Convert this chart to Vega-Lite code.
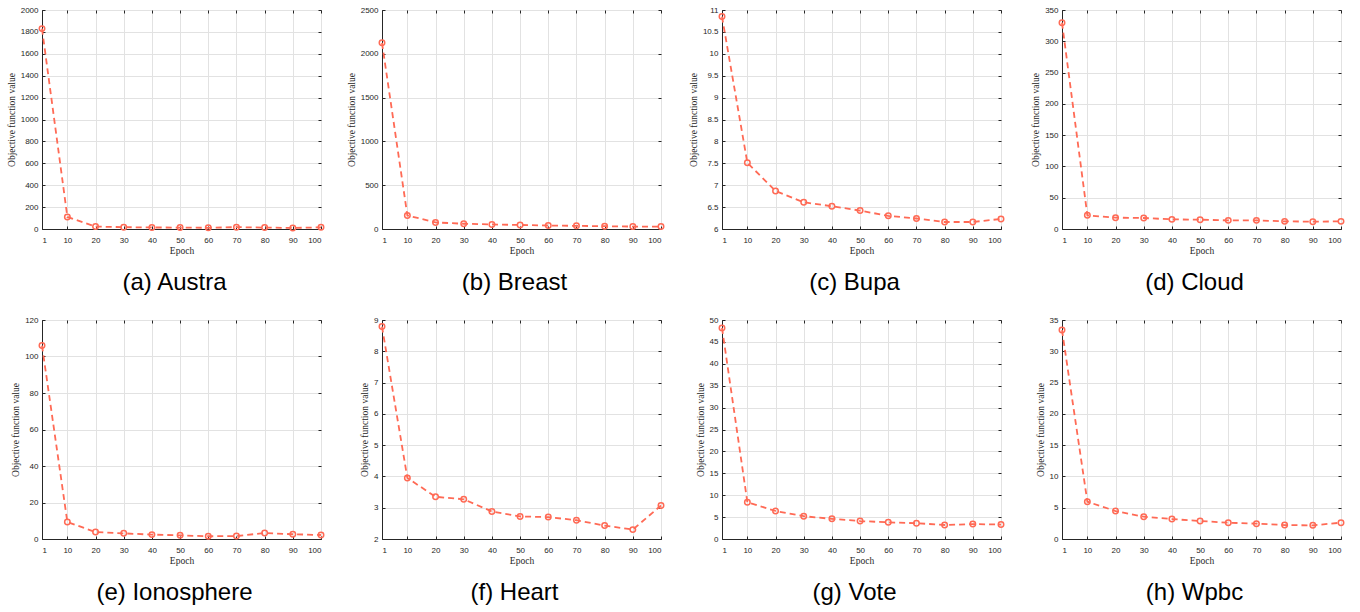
{
  "$schema": "https://vega.github.io/schema/vega-lite/v6.json",
  "background": "white",
  "padding": {"left": 5, "top": 5, "right": 5, "bottom": 5},
  "bounds": "flush",
  "spacing": {"row": 91, "column": 61},
  "columns": 4,
  "config": {
    "view": {"stroke": "#262626", "strokeWidth": 1},
    "axis": {
      "labelFont": "Liberation Sans",
      "labelFontSize": 8,
      "labelColor": "#262626",
      "labelExpr": "'' + datum.value",
      "titleFont": "Liberation Serif",
      "titleFontSize": 9.5,
      "titleFontWeight": "normal",
      "titleColor": "#262626",
      "domainColor": "#262626",
      "tickColor": "#262626",
      "tickSize": -3,
      "gridColor": "#e2e2e2",
      "gridWidth": 1
    },
    "axisX": {"labelPadding": 10, "titlePadding": 1},
    "axisY": {"labelPadding": 7, "titlePadding": 4},
    "axisTop": {"labels": false, "title": null, "grid": false, "domain": false},
    "axisRight": {"labels": false, "title": null, "grid": false, "domain": false},
    "title": {
      "font": "Liberation Sans",
      "fontSize": 24,
      "fontWeight": "normal",
      "color": "#000000",
      "orient": "bottom",
      "frame": "group",
      "anchor": "middle",
      "dx": -7,
      "offset": 16
    }
  },
  "datasets": {
    "all": [
      {"ds": "Austra", "epoch": 1, "value": 1830}, {"ds": "Austra", "epoch": 10, "value": 110}, {"ds": "Austra", "epoch": 20, "value": 22}, {"ds": "Austra", "epoch": 30, "value": 17}, {"ds": "Austra", "epoch": 40, "value": 14}, {"ds": "Austra", "epoch": 50, "value": 13}, {"ds": "Austra", "epoch": 60, "value": 11}, {"ds": "Austra", "epoch": 70, "value": 17}, {"ds": "Austra", "epoch": 80, "value": 13}, {"ds": "Austra", "epoch": 90, "value": 10}, {"ds": "Austra", "epoch": 100, "value": 15},
      {"ds": "Breast", "epoch": 1, "value": 2125}, {"ds": "Breast", "epoch": 10, "value": 155}, {"ds": "Breast", "epoch": 20, "value": 75}, {"ds": "Breast", "epoch": 30, "value": 60}, {"ds": "Breast", "epoch": 40, "value": 52}, {"ds": "Breast", "epoch": 50, "value": 46}, {"ds": "Breast", "epoch": 60, "value": 40}, {"ds": "Breast", "epoch": 70, "value": 36}, {"ds": "Breast", "epoch": 80, "value": 32}, {"ds": "Breast", "epoch": 90, "value": 28}, {"ds": "Breast", "epoch": 100, "value": 28},
      {"ds": "Bupa", "epoch": 1, "value": 10.85}, {"ds": "Bupa", "epoch": 10, "value": 7.51}, {"ds": "Bupa", "epoch": 20, "value": 6.87}, {"ds": "Bupa", "epoch": 30, "value": 6.61}, {"ds": "Bupa", "epoch": 40, "value": 6.52}, {"ds": "Bupa", "epoch": 50, "value": 6.42}, {"ds": "Bupa", "epoch": 60, "value": 6.3}, {"ds": "Bupa", "epoch": 70, "value": 6.24}, {"ds": "Bupa", "epoch": 80, "value": 6.16}, {"ds": "Bupa", "epoch": 90, "value": 6.16}, {"ds": "Bupa", "epoch": 100, "value": 6.23},
      {"ds": "Cloud", "epoch": 1, "value": 329.8}, {"ds": "Cloud", "epoch": 10, "value": 21.8}, {"ds": "Cloud", "epoch": 20, "value": 18.1}, {"ds": "Cloud", "epoch": 30, "value": 17.6}, {"ds": "Cloud", "epoch": 40, "value": 15.4}, {"ds": "Cloud", "epoch": 50, "value": 14.9}, {"ds": "Cloud", "epoch": 60, "value": 13.8}, {"ds": "Cloud", "epoch": 70, "value": 13.8}, {"ds": "Cloud", "epoch": 80, "value": 12.2}, {"ds": "Cloud", "epoch": 90, "value": 11.7}, {"ds": "Cloud", "epoch": 100, "value": 12.2},
      {"ds": "Ionosphere", "epoch": 1, "value": 106}, {"ds": "Ionosphere", "epoch": 10, "value": 9.3}, {"ds": "Ionosphere", "epoch": 20, "value": 3.8}, {"ds": "Ionosphere", "epoch": 30, "value": 3.1}, {"ds": "Ionosphere", "epoch": 40, "value": 2.4}, {"ds": "Ionosphere", "epoch": 50, "value": 2.0}, {"ds": "Ionosphere", "epoch": 60, "value": 1.5}, {"ds": "Ionosphere", "epoch": 70, "value": 1.6}, {"ds": "Ionosphere", "epoch": 80, "value": 3.3}, {"ds": "Ionosphere", "epoch": 90, "value": 2.6}, {"ds": "Ionosphere", "epoch": 100, "value": 2.2},
      {"ds": "Heart", "epoch": 1, "value": 8.79}, {"ds": "Heart", "epoch": 10, "value": 3.95}, {"ds": "Heart", "epoch": 20, "value": 3.35}, {"ds": "Heart", "epoch": 30, "value": 3.27}, {"ds": "Heart", "epoch": 40, "value": 2.88}, {"ds": "Heart", "epoch": 50, "value": 2.72}, {"ds": "Heart", "epoch": 60, "value": 2.7}, {"ds": "Heart", "epoch": 70, "value": 2.6}, {"ds": "Heart", "epoch": 80, "value": 2.43}, {"ds": "Heart", "epoch": 90, "value": 2.3}, {"ds": "Heart", "epoch": 100, "value": 3.07},
      {"ds": "Vote", "epoch": 1, "value": 48.2}, {"ds": "Vote", "epoch": 10, "value": 8.4}, {"ds": "Vote", "epoch": 20, "value": 6.4}, {"ds": "Vote", "epoch": 30, "value": 5.2}, {"ds": "Vote", "epoch": 40, "value": 4.6}, {"ds": "Vote", "epoch": 50, "value": 4.1}, {"ds": "Vote", "epoch": 60, "value": 3.8}, {"ds": "Vote", "epoch": 70, "value": 3.6}, {"ds": "Vote", "epoch": 80, "value": 3.2}, {"ds": "Vote", "epoch": 90, "value": 3.4}, {"ds": "Vote", "epoch": 100, "value": 3.3},
      {"ds": "Wpbc", "epoch": 1, "value": 33.4}, {"ds": "Wpbc", "epoch": 10, "value": 5.96}, {"ds": "Wpbc", "epoch": 20, "value": 4.47}, {"ds": "Wpbc", "epoch": 30, "value": 3.56}, {"ds": "Wpbc", "epoch": 40, "value": 3.19}, {"ds": "Wpbc", "epoch": 50, "value": 2.87}, {"ds": "Wpbc", "epoch": 60, "value": 2.61}, {"ds": "Wpbc", "epoch": 70, "value": 2.45}, {"ds": "Wpbc", "epoch": 80, "value": 2.23}, {"ds": "Wpbc", "epoch": 90, "value": 2.18}, {"ds": "Wpbc", "epoch": 100, "value": 2.61}
    ]
  },
  "concat": [
    {
      "width": 279, "height": 219,
      "title": {"text": "(a) Austra"},
      "data": {"name": "all"},
      "transform": [{"filter": "datum.ds === 'Austra'"}],
      "encoding": {
        "x": {"field": "epoch", "type": "quantitative", "scale": {"domain": [1, 100], "nice": false}, "axis": {"title": "Epoch", "values": [1, 10, 20, 30, 40, 50, 60, 70, 80, 90, 100]}},
        "y": {"field": "value", "type": "quantitative", "scale": {"domain": [0, 2000], "nice": false}, "axis": {"title": "Objective function value", "values": [0, 200, 400, 600, 800, 1000, 1200, 1400, 1600, 1800, 2000]}}
      },
      "layer": [
        {"mark": {"type": "line", "color": "#ff6a55", "strokeWidth": 1.8, "strokeDash": [6, 4]}},
        {"mark": {"type": "point", "shape": "circle", "filled": false, "color": "#ff6a55", "strokeWidth": 1.5, "size": 30, "opacity": 1},
         "encoding": {
           "x": {"field": "epoch", "type": "quantitative", "scale": {"domain": [1, 100], "nice": false}, "axis": {"orient": "top", "values": [1, 10, 20, 30, 40, 50, 60, 70, 80, 90, 100]}},
           "y": {"field": "value", "type": "quantitative", "scale": {"domain": [0, 2000], "nice": false}, "axis": {"orient": "right", "values": [0, 200, 400, 600, 800, 1000, 1200, 1400, 1600, 1800, 2000]}}
         }}
      ],
      "resolve": {"axis": {"x": "independent", "y": "independent"}}
    },
    {
      "width": 279, "height": 219,
      "title": {"text": "(b) Breast"},
      "data": {"name": "all"},
      "transform": [{"filter": "datum.ds === 'Breast'"}],
      "encoding": {
        "x": {"field": "epoch", "type": "quantitative", "scale": {"domain": [1, 100], "nice": false}, "axis": {"title": "Epoch", "values": [1, 10, 20, 30, 40, 50, 60, 70, 80, 90, 100]}},
        "y": {"field": "value", "type": "quantitative", "scale": {"domain": [0, 2500], "nice": false}, "axis": {"title": "Objective function value", "values": [0, 500, 1000, 1500, 2000, 2500]}}
      },
      "layer": [
        {"mark": {"type": "line", "color": "#ff6a55", "strokeWidth": 1.8, "strokeDash": [6, 4]}},
        {"mark": {"type": "point", "shape": "circle", "filled": false, "color": "#ff6a55", "strokeWidth": 1.5, "size": 30, "opacity": 1},
         "encoding": {
           "x": {"field": "epoch", "type": "quantitative", "scale": {"domain": [1, 100], "nice": false}, "axis": {"orient": "top", "values": [1, 10, 20, 30, 40, 50, 60, 70, 80, 90, 100]}},
           "y": {"field": "value", "type": "quantitative", "scale": {"domain": [0, 2500], "nice": false}, "axis": {"orient": "right", "values": [0, 500, 1000, 1500, 2000, 2500]}}
         }}
      ],
      "resolve": {"axis": {"x": "independent", "y": "independent"}}
    },
    {
      "width": 279, "height": 219,
      "title": {"text": "(c) Bupa"},
      "data": {"name": "all"},
      "transform": [{"filter": "datum.ds === 'Bupa'"}],
      "encoding": {
        "x": {"field": "epoch", "type": "quantitative", "scale": {"domain": [1, 100], "nice": false}, "axis": {"title": "Epoch", "values": [1, 10, 20, 30, 40, 50, 60, 70, 80, 90, 100]}},
        "y": {"field": "value", "type": "quantitative", "scale": {"domain": [6, 11], "nice": false, "zero": false}, "axis": {"title": "Objective function value", "values": [6, 6.5, 7, 7.5, 8, 8.5, 9, 9.5, 10, 10.5, 11]}}
      },
      "layer": [
        {"mark": {"type": "line", "color": "#ff6a55", "strokeWidth": 1.8, "strokeDash": [6, 4]}},
        {"mark": {"type": "point", "shape": "circle", "filled": false, "color": "#ff6a55", "strokeWidth": 1.5, "size": 30, "opacity": 1},
         "encoding": {
           "x": {"field": "epoch", "type": "quantitative", "scale": {"domain": [1, 100], "nice": false}, "axis": {"orient": "top", "values": [1, 10, 20, 30, 40, 50, 60, 70, 80, 90, 100]}},
           "y": {"field": "value", "type": "quantitative", "scale": {"domain": [6, 11], "nice": false, "zero": false}, "axis": {"orient": "right", "values": [6, 6.5, 7, 7.5, 8, 8.5, 9, 9.5, 10, 10.5, 11]}}
         }}
      ],
      "resolve": {"axis": {"x": "independent", "y": "independent"}}
    },
    {
      "width": 279, "height": 219,
      "title": {"text": "(d) Cloud"},
      "data": {"name": "all"},
      "transform": [{"filter": "datum.ds === 'Cloud'"}],
      "encoding": {
        "x": {"field": "epoch", "type": "quantitative", "scale": {"domain": [1, 100], "nice": false}, "axis": {"title": "Epoch", "values": [1, 10, 20, 30, 40, 50, 60, 70, 80, 90, 100]}},
        "y": {"field": "value", "type": "quantitative", "scale": {"domain": [0, 350], "nice": false}, "axis": {"title": "Objective function value", "values": [0, 50, 100, 150, 200, 250, 300, 350]}}
      },
      "layer": [
        {"mark": {"type": "line", "color": "#ff6a55", "strokeWidth": 1.8, "strokeDash": [6, 4]}},
        {"mark": {"type": "point", "shape": "circle", "filled": false, "color": "#ff6a55", "strokeWidth": 1.5, "size": 30, "opacity": 1},
         "encoding": {
           "x": {"field": "epoch", "type": "quantitative", "scale": {"domain": [1, 100], "nice": false}, "axis": {"orient": "top", "values": [1, 10, 20, 30, 40, 50, 60, 70, 80, 90, 100]}},
           "y": {"field": "value", "type": "quantitative", "scale": {"domain": [0, 350], "nice": false}, "axis": {"orient": "right", "values": [0, 50, 100, 150, 200, 250, 300, 350]}}
         }}
      ],
      "resolve": {"axis": {"x": "independent", "y": "independent"}}
    },
    {
      "width": 279, "height": 219,
      "title": {"text": "(e) Ionosphere"},
      "data": {"name": "all"},
      "transform": [{"filter": "datum.ds === 'Ionosphere'"}],
      "encoding": {
        "x": {"field": "epoch", "type": "quantitative", "scale": {"domain": [1, 100], "nice": false}, "axis": {"title": "Epoch", "values": [1, 10, 20, 30, 40, 50, 60, 70, 80, 90, 100]}},
        "y": {"field": "value", "type": "quantitative", "scale": {"domain": [0, 120], "nice": false}, "axis": {"title": "Objective function value", "values": [0, 20, 40, 60, 80, 100, 120]}}
      },
      "layer": [
        {"mark": {"type": "line", "color": "#ff6a55", "strokeWidth": 1.8, "strokeDash": [6, 4]}},
        {"mark": {"type": "point", "shape": "circle", "filled": false, "color": "#ff6a55", "strokeWidth": 1.5, "size": 30, "opacity": 1},
         "encoding": {
           "x": {"field": "epoch", "type": "quantitative", "scale": {"domain": [1, 100], "nice": false}, "axis": {"orient": "top", "values": [1, 10, 20, 30, 40, 50, 60, 70, 80, 90, 100]}},
           "y": {"field": "value", "type": "quantitative", "scale": {"domain": [0, 120], "nice": false}, "axis": {"orient": "right", "values": [0, 20, 40, 60, 80, 100, 120]}}
         }}
      ],
      "resolve": {"axis": {"x": "independent", "y": "independent"}}
    },
    {
      "width": 279, "height": 219,
      "title": {"text": "(f) Heart"},
      "data": {"name": "all"},
      "transform": [{"filter": "datum.ds === 'Heart'"}],
      "encoding": {
        "x": {"field": "epoch", "type": "quantitative", "scale": {"domain": [1, 100], "nice": false}, "axis": {"title": "Epoch", "values": [1, 10, 20, 30, 40, 50, 60, 70, 80, 90, 100]}},
        "y": {"field": "value", "type": "quantitative", "scale": {"domain": [2, 9], "nice": false, "zero": false}, "axis": {"title": "Objective function value", "values": [2, 3, 4, 5, 6, 7, 8, 9]}}
      },
      "layer": [
        {"mark": {"type": "line", "color": "#ff6a55", "strokeWidth": 1.8, "strokeDash": [6, 4]}},
        {"mark": {"type": "point", "shape": "circle", "filled": false, "color": "#ff6a55", "strokeWidth": 1.5, "size": 30, "opacity": 1},
         "encoding": {
           "x": {"field": "epoch", "type": "quantitative", "scale": {"domain": [1, 100], "nice": false}, "axis": {"orient": "top", "values": [1, 10, 20, 30, 40, 50, 60, 70, 80, 90, 100]}},
           "y": {"field": "value", "type": "quantitative", "scale": {"domain": [2, 9], "nice": false, "zero": false}, "axis": {"orient": "right", "values": [2, 3, 4, 5, 6, 7, 8, 9]}}
         }}
      ],
      "resolve": {"axis": {"x": "independent", "y": "independent"}}
    },
    {
      "width": 279, "height": 219,
      "title": {"text": "(g) Vote"},
      "data": {"name": "all"},
      "transform": [{"filter": "datum.ds === 'Vote'"}],
      "encoding": {
        "x": {"field": "epoch", "type": "quantitative", "scale": {"domain": [1, 100], "nice": false}, "axis": {"title": "Epoch", "values": [1, 10, 20, 30, 40, 50, 60, 70, 80, 90, 100]}},
        "y": {"field": "value", "type": "quantitative", "scale": {"domain": [0, 50], "nice": false}, "axis": {"title": "Objective function value", "values": [0, 5, 10, 15, 20, 25, 30, 35, 40, 45, 50]}}
      },
      "layer": [
        {"mark": {"type": "line", "color": "#ff6a55", "strokeWidth": 1.8, "strokeDash": [6, 4]}},
        {"mark": {"type": "point", "shape": "circle", "filled": false, "color": "#ff6a55", "strokeWidth": 1.5, "size": 30, "opacity": 1},
         "encoding": {
           "x": {"field": "epoch", "type": "quantitative", "scale": {"domain": [1, 100], "nice": false}, "axis": {"orient": "top", "values": [1, 10, 20, 30, 40, 50, 60, 70, 80, 90, 100]}},
           "y": {"field": "value", "type": "quantitative", "scale": {"domain": [0, 50], "nice": false}, "axis": {"orient": "right", "values": [0, 5, 10, 15, 20, 25, 30, 35, 40, 45, 50]}}
         }}
      ],
      "resolve": {"axis": {"x": "independent", "y": "independent"}}
    },
    {
      "width": 279, "height": 219,
      "title": {"text": "(h) Wpbc"},
      "data": {"name": "all"},
      "transform": [{"filter": "datum.ds === 'Wpbc'"}],
      "encoding": {
        "x": {"field": "epoch", "type": "quantitative", "scale": {"domain": [1, 100], "nice": false}, "axis": {"title": "Epoch", "values": [1, 10, 20, 30, 40, 50, 60, 70, 80, 90, 100]}},
        "y": {"field": "value", "type": "quantitative", "scale": {"domain": [0, 35], "nice": false}, "axis": {"title": "Objective function value", "values": [0, 5, 10, 15, 20, 25, 30, 35]}}
      },
      "layer": [
        {"mark": {"type": "line", "color": "#ff6a55", "strokeWidth": 1.8, "strokeDash": [6, 4]}},
        {"mark": {"type": "point", "shape": "circle", "filled": false, "color": "#ff6a55", "strokeWidth": 1.5, "size": 30, "opacity": 1},
         "encoding": {
           "x": {"field": "epoch", "type": "quantitative", "scale": {"domain": [1, 100], "nice": false}, "axis": {"orient": "top", "values": [1, 10, 20, 30, 40, 50, 60, 70, 80, 90, 100]}},
           "y": {"field": "value", "type": "quantitative", "scale": {"domain": [0, 35], "nice": false}, "axis": {"orient": "right", "values": [0, 5, 10, 15, 20, 25, 30, 35]}}
         }}
      ],
      "resolve": {"axis": {"x": "independent", "y": "independent"}}
    }
  ]
}
